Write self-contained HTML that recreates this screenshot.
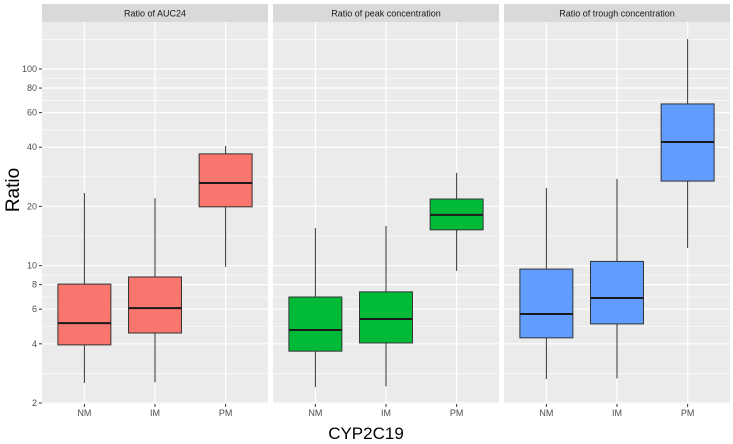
<!DOCTYPE html>
<html><head><meta charset="utf-8"><style>
body{margin:0;background:#fff;}
svg{display:block;font-family:"Liberation Sans",Arial,sans-serif;}
</style></head><body>
<svg id="chart" width="733" height="444"></svg>
<script>
const panels = ["Ratio of AUC24","Ratio of peak concentration","Ratio of trough concentration"];
const categories = ["NM","IM","PM"];
const colors = ["#F8766D","#00BA38","#619CFF"];
const yTicks = [2,4,6,8,10,20,40,60,80,100];
const whiskerLow = [[2.53,2.55,9.85],[2.41,2.43,9.4],[2.65,2.67,12.3]];
const q1 = [[3.95,4.54,19.9],[3.67,4.04,15.2],[4.29,5.05,26.9]];
const median = [[5.1,6.08,26.3],[4.7,5.35,18.1],[5.67,6.84,42.5]];
const q3 = [[8.05,8.75,37],[6.92,7.35,21.8],[9.6,10.5,66.4]];
const whiskerHigh = [[23.4,22,40.6],[15.5,15.9,29.6],[24.8,27.6,142]];

const NS="http://www.w3.org/2000/svg";
const svg=document.getElementById('chart');
function mk(tag,attrs,parent){const e=document.createElementNS(NS,tag);for(const k in attrs)e.setAttribute(k,attrs[k]);(parent||svg).appendChild(e);return e;}
const panelX=[42,273,504], panelW=226, plotTop=22, plotBottom=404;
const decade=196.6;
function y(v){return 403-(Math.log10(v)-Math.log10(2))*decade;}
function x(p,i){return panelX[p]+panelW*(i+1-0.4)/3.2;}
const bw=panelW*0.75/3.2;
const minors=[];
for(let i=0;i<yTicks.length-1;i++)minors.push(Math.sqrt(yTicks[i]*yTicks[i+1]));
minors.push(141.4);

for(let p=0;p<3;p++){
  const g=mk('g',{});
  
  
  const strip=mk('rect',{x:panelX[p],y:4,width:panelW,height:18,fill:'#D9D9D9'},g);
  
  
  const st=mk('text',{x:panelX[p]+panelW/2,y:16.5,'text-anchor':'middle','font-size':9,fill:'#1A1A1A'},g);
  st.textContent=panels[p];
  
  
  const bg=mk('rect',{x:panelX[p],y:plotTop,width:panelW,height:plotBottom-plotTop,fill:'#EBEBEB'},g);
  
  
  minors.forEach(v=>{const yy=y(v);if(yy>plotTop&&yy<plotBottom){const l=mk('line',{x1:panelX[p],x2:panelX[p]+panelW,y1:yy,y2:yy,stroke:'#fff','stroke-width':0.6},g);}});
  yTicks.forEach(v=>{const yy=y(v);const l=mk('line',{x1:panelX[p],x2:panelX[p]+panelW,y1:yy,y2:yy,stroke:'#fff','stroke-width':1.2},g);});
  categories.forEach((c,i)=>{const cx=x(p,i);
    const l=mk('line',{x1:cx,x2:cx,y1:plotTop,y2:plotBottom,stroke:'#fff','stroke-width':1.2},g);
    
    const tk=mk('line',{x1:cx,x2:cx,y1:plotBottom,y2:plotBottom+3,stroke:'#333','stroke-width':1},g);
    
    const t=mk('text',{x:cx,y:416,'text-anchor':'middle','font-size':9,fill:'#4D4D4D'},g);t.textContent=c;
    
  });
  categories.forEach((c,i)=>{const cx=x(p,i);
    const b=mk('g',{},g);
    
    
    mk('line',{x1:cx,x2:cx,y1:y(whiskerLow[p][i]),y2:y(q1[p][i]),stroke:'#333','stroke-width':1},b);
    mk('line',{x1:cx,x2:cx,y1:y(q3[p][i]),y2:y(whiskerHigh[p][i]),stroke:'#333','stroke-width':1},b);
    mk('rect',{x:cx-bw/2,y:y(q3[p][i]),width:bw,height:y(q1[p][i])-y(q3[p][i]),fill:colors[p],stroke:'#333','stroke-width':1},b);
    mk('line',{x1:cx-bw/2,x2:cx+bw/2,y1:y(median[p][i]),y2:y(median[p][i]),stroke:'#1A1A1A','stroke-width':2},b);
  });
}
yTicks.forEach(v=>{const yy=y(v);
  const tk=mk('line',{x1:39,x2:42,y1:yy,y2:yy,stroke:'#333','stroke-width':1});
  
  const t=mk('text',{x:37,y:yy+3,'text-anchor':'end','font-size':9,fill:'#4D4D4D'});t.textContent=v;
  
});
const xt=mk('text',{x:366,y:439,'text-anchor':'middle','font-size':17,fill:'#000'});xt.textContent='CYP2C19';

const yt=mk('text',{x:0,y:0,'text-anchor':'middle','font-size':19,fill:'#000',transform:'translate(19,190) rotate(-90)'});yt.textContent='Ratio';

</script>
</body></html>
